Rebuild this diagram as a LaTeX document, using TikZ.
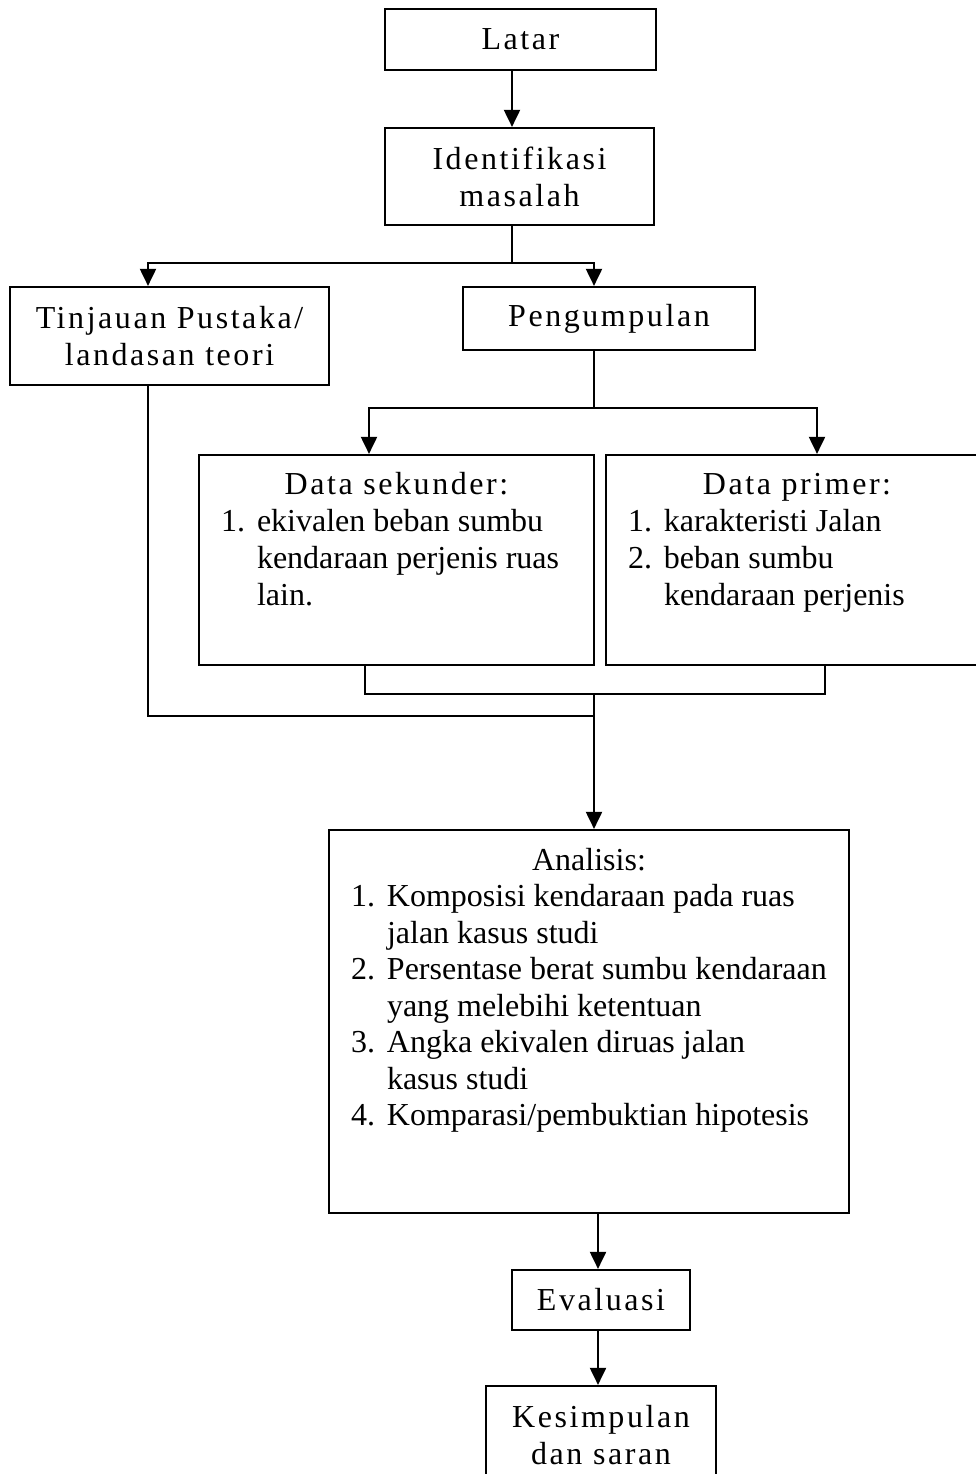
\documentclass[tikz,border=0pt]{standalone}
\usepackage{fontspec}
\setmainfont{Liberation Serif}
\newfontfamily\spacedfont[LetterSpace=8]{Liberation Serif}
\usetikzlibrary{arrows.meta}

\newcommand{\itemno}[2]{\makebox[36pt][l]{#1}\mbox{#2}}
\newcommand{\itemcont}[1]{\hspace*{36pt}\mbox{#1}}

\tikzset{
  flowbox/.style={draw, line width=2.2pt, inner sep=0pt, align=center,
    font=\spacedfont\fontsize{32}{37}\selectfont},
  listbox/.style={draw, line width=2.2pt, inner xsep=22pt, inner ysep=0pt,
    font=\fontsize{32}{37}\selectfont},
  link/.style={line width=2pt},
  arrowlink/.style={link, -{Triangle[length=17pt,width=16pt]}},
}

\begin{document}
\begin{tikzpicture}[x=1pt,y=-1pt]
    \useasboundingbox (0,0) rectangle (976,1474);
    % Upper boxes
    \node[flowbox, minimum width=271, minimum height=61] (latar) at (520.5,39.5) {Latar};
    \node[flowbox, minimum width=269, minimum height=97] (ident) at (519.5,176.5) {Identifikasi\\masalah};
    \node[flowbox, minimum width=319, minimum height=98] (tinjauan) at (169.5,336) {Tinjauan Pustaka/\\landasan teori};
    \node[flowbox, minimum width=292, minimum height=63] (kumpul) at (609,318.5) {Pengumpulan};
    % Data boxes
    \node[listbox] (sekunder) at (396.5,560) {\parbox[c][210pt][t]{351pt}{%
        \centering{\spacedfont\rule{0pt}{39pt}Data sekunder:}\par
        \raggedright
        \itemno{1.}{ekivalen beban sumbu}\\
        \itemcont{kendaraan perjenis ruas}\\
        \itemcont{lain.}}};
    \node[listbox] (primer) at (797,560) {\parbox[c][210pt][t]{338pt}{%
        \centering{\spacedfont\rule{0pt}{39pt}Data primer:}\par
        \raggedright
        \itemno{1.}{karakteristi Jalan}\\
        \itemno{2.}{beban sumbu}\\
        \itemcont{kendaraan perjenis}}};
    % Analysis box
    \node[listbox, font=\fontsize{32}{36.5}\selectfont] (analisis) at (589,1021.5) {\parbox[c][383pt][t]{476pt}{%
        \centering\rule{0pt}{40pt}Analisis:\par
        \raggedright
        \itemno{1.}{Komposisi kendaraan pada ruas}\\
        \itemcont{jalan kasus studi}\\
        \itemno{2.}{Persentase berat sumbu kendaraan}\\
        \itemcont{yang melebihi ketentuan}\\
        \itemno{3.}{Angka ekivalen diruas jalan}\\
        \itemcont{kasus studi}\\
        \itemno{4.}{Komparasi/pembuktian hipotesis}}};
    % Lower boxes
    \node[flowbox, minimum width=178, minimum height=60] (evaluasi) at (601,1300) {Evaluasi};
    \node[flowbox, minimum width=230, minimum height=98] (simpul) at (601,1435) {Kesimpulan\\dan saran};
    % Connectors
    \draw[arrowlink] ([xshift=-8.5]latar.south) -- ([xshift=-7.5]ident.north);
    \coordinate (split1) at (512,263);
    \draw[link] ([xshift=-7.5]ident.south) -- (split1);
    \draw[arrowlink] (split1) -| ([xshift=-21.5]tinjauan.north);
    \draw[arrowlink] (split1) -| ([xshift=-15]kumpul.north);
    \coordinate (split2) at (594,408);
    \draw[link] ([xshift=-15]kumpul.south) -- (split2);
    \draw[arrowlink] (split2) -| ([xshift=-27.5]sekunder.north);
    \draw[arrowlink] (split2) -| ([xshift=20]primer.north);
    \coordinate (join) at (594,694);
    \draw[link] ([xshift=-31.5]sekunder.south) |- (join) -| ([xshift=28]primer.south);
    \coordinate (merge) at (594,716);
    \draw[link] ([xshift=-21.5]tinjauan.south) |- (merge);
    \draw[arrowlink] (join) -- ([xshift=5]analisis.north);
    \draw[arrowlink] ([xshift=9]analisis.south) -- ([xshift=-3]evaluasi.north);
    \draw[arrowlink] ([xshift=-3]evaluasi.south) -- ([xshift=-3]simpul.north);
\end{tikzpicture}
\end{document}
